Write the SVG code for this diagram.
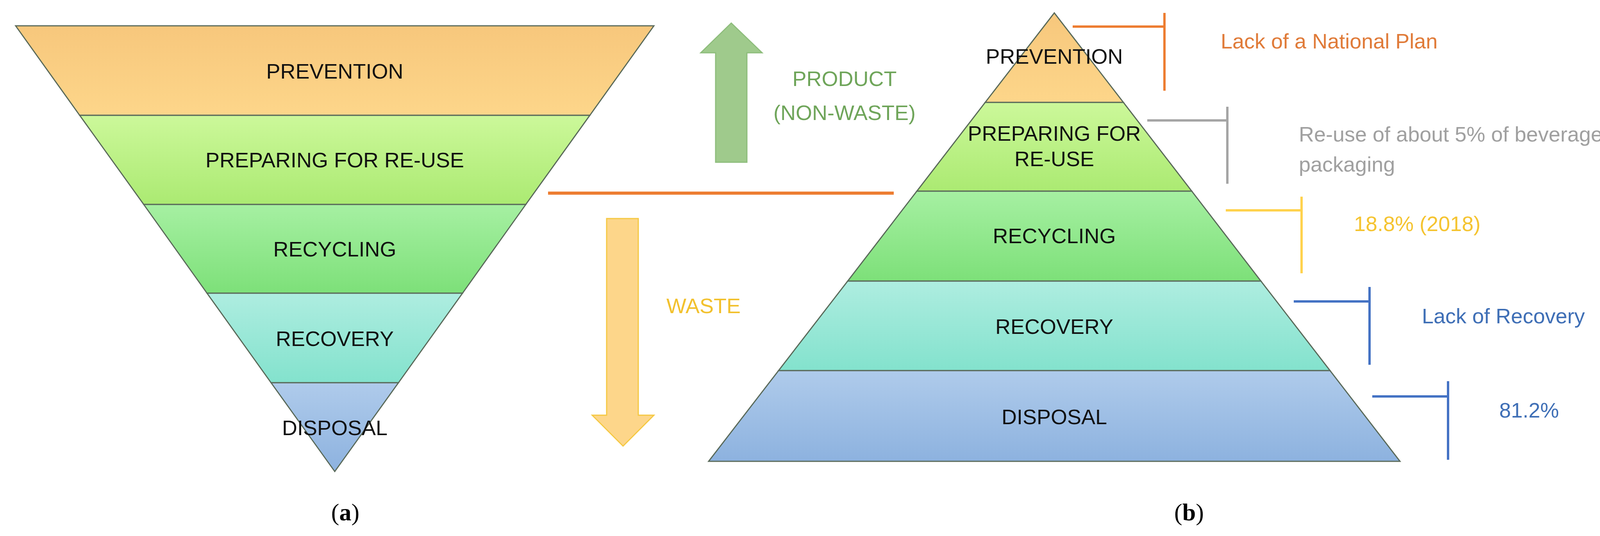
<svg xmlns="http://www.w3.org/2000/svg" width="4161" height="1371" viewBox="0 0 4161 1371">
<style>
.band{stroke:#5a6a5a;stroke-width:3}
.lbl{font-family:"Liberation Sans Narrow","Liberation Sans",sans-serif;font-size:54px;fill:#111;text-anchor:middle}
.note{font-family:"Liberation Sans Narrow","Liberation Sans",sans-serif;font-size:54px}
.cap{font-family:"Liberation Serif",serif;font-size:62px;fill:#000;text-anchor:middle}
</style>
<defs>
<linearGradient id="g1" x1="0" y1="0" x2="0" y2="1"><stop offset="0" stop-color="#f7c77c"/><stop offset="1" stop-color="#fdd68a"/></linearGradient>
<linearGradient id="g2" x1="0" y1="0" x2="0" y2="1"><stop offset="0" stop-color="#ccf89a"/><stop offset="1" stop-color="#abea72"/></linearGradient>
<linearGradient id="g3" x1="0" y1="0" x2="0" y2="1"><stop offset="0" stop-color="#a6f0a2"/><stop offset="1" stop-color="#7de079"/></linearGradient>
<linearGradient id="g4" x1="0" y1="0" x2="0" y2="1"><stop offset="0" stop-color="#aeede0"/><stop offset="1" stop-color="#83e2cd"/></linearGradient>
<linearGradient id="g5" x1="0" y1="0" x2="0" y2="1"><stop offset="0" stop-color="#afcbeb"/><stop offset="1" stop-color="#8db2df"/></linearGradient>
</defs>
<rect width="4161" height="1371" fill="#fff"/>
<g id="inverted">
<g id="a-prevention"><polygon class="band" fill="url(#g1)" points="40,66 1674,66 1510,295 204,295"/><text class="lbl" x="857" y="201">PREVENTION</text></g>
<g id="a-preparing"><polygon class="band" fill="url(#g2)" points="204,295 1510,295 1346,523 368,523"/><text class="lbl" x="857" y="428">PREPARING FOR RE-USE</text></g>
<g id="a-recycling"><polygon class="band" fill="url(#g3)" points="368,523 1346,523 1184,750 530,750"/><text class="lbl" x="857" y="656">RECYCLING</text></g>
<g id="a-recovery"><polygon class="band" fill="url(#g4)" points="530,750 1184,750 1020,979 694,979"/><text class="lbl" x="857" y="885">RECOVERY</text></g>
<g id="a-disposal"><polygon class="band" fill="url(#g5)" points="694,979 1020,979 857,1206"/><text class="lbl" x="857" y="1113">DISPOSAL</text></g>
</g>
<g id="arrows">
<polygon points="1872,59 1951,135 1912,135 1912,415 1832,415 1832,135 1794,135" fill="#9fca8c" stroke="#8ebd7c" stroke-width="3"/>
<text class="note" x="2162" y="220" fill="#6fa55a" text-anchor="middle">PRODUCT</text>
<text class="note" x="2162" y="307" fill="#6fa55a" text-anchor="middle">(NON-WASTE)</text>
<line x1="1403" y1="494" x2="2288" y2="494" stroke="#ed7d31" stroke-width="8"/>
<polygon points="1553,559 1634,559 1634,1062 1674,1062 1595,1141 1516,1062 1553,1062" fill="#fdd68a" stroke="#f5c842" stroke-width="3"/>
<text class="note" x="1801" y="801" fill="#f2c12e" text-anchor="middle">WASTE</text>
</g>
<g id="pyramid">
<g id="b-prevention"><polygon class="band" fill="url(#g1)" points="2699,33 2876,262 2522,262"/><text class="lbl" x="2699" y="163">PREVENTION</text></g>
<g id="b-preparing"><polygon class="band" fill="url(#g2)" points="2522,262 2876,262 3051,489 2347,489"/><text class="lbl" x="2699" y="360">PREPARING FOR</text><text class="lbl" x="2699" y="425">RE-USE</text></g>
<g id="b-recycling"><polygon class="band" fill="url(#g3)" points="2347,489 3051,489 3228,719 2170,719"/><text class="lbl" x="2699" y="622">RECYCLING</text></g>
<g id="b-recovery"><polygon class="band" fill="url(#g4)" points="2170,719 3228,719 3405,948 1993,948"/><text class="lbl" x="2699" y="854">RECOVERY</text></g>
<g id="b-disposal"><polygon class="band" fill="url(#g5)" points="1993,948 3405,948 3584,1180 1814,1180"/><text class="lbl" x="2699" y="1085">DISPOSAL</text></g>
</g>
<g id="connectors" fill="none" stroke-width="6">
<path d="M2746,68 H2981 M2981,33 V232" stroke="#ed7d31"/>
<path d="M2937,308 H3142 M3142,273 V470" stroke="#a5a5a5"/>
<path d="M3138,538 H3332 M3332,503 V699" stroke="#ffd24d"/>
<path d="M3312,771 H3506 M3506,734 V933" stroke="#4472c4"/>
<path d="M3513,1014 H3707 M3707,975 V1176" stroke="#4472c4"/>
</g>
<g id="notes">
<text class="note" x="3125" y="124" fill="#e07b39">Lack of a National Plan</text>
<text class="note" x="3325" y="362" fill="#a0a0a0">Re-use of about 5% of beverage</text>
<text class="note" x="3325" y="439" fill="#a0a0a0">packaging</text>
<text class="note" x="3466" y="591" fill="#f5c431">18.8% (2018)</text>
<text class="note" x="3640" y="827" fill="#3f6fb6">Lack of Recovery</text>
<text class="note" x="3838" y="1068" fill="#3f6fb6">81.2%</text>
</g>
<text class="cap" x="884" y="1331">(<tspan font-weight="bold">a</tspan>)</text>
<text class="cap" x="3044" y="1331">(<tspan font-weight="bold">b</tspan>)</text>
</svg>
